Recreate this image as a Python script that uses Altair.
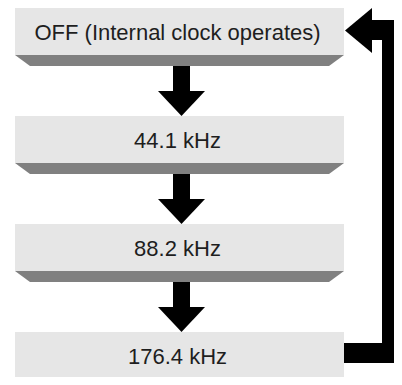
import altair as alt
import pandas as pd

# ---- diagram content ----
labels = ["OFF (Internal clock operates)", "44.1 kHz", "88.2 kHz", "176.4 kHz"]
steps = [0, 1, 2, 3]

# ---- layout (page pixel frame; the page has an 8px margin) ----
W, H = 386, 369
M = 8
BOX_L, BOX_R = 15, 344
BOX_H = 47
PITCH = 108
TOP0 = 8
SHADOW = 11
INSET = 15
RIGHT = M + W  # right edge of drawable area

xs = alt.Scale(domain=[M, M + W], nice=False, zero=False)
ys = alt.Scale(domain=[M, M + H], reverse=True, nice=False, zero=False)

tops = [TOP0 + PITCH * s for s in steps]

boxes = pd.DataFrame({
    "label": labels,
    "left": BOX_L, "right": BOX_R,
    "top": tops,
    "bottom": [t + BOX_H for t in tops],
    "cx": (BOX_L + BOX_R) / 2 - 2,
    "cy": [t + BOX_H / 2 + 1 for t in tops],
})

shadow_rows = []
for s, t in zip(steps, tops):
    b = t + BOX_H
    for x, y2 in [(BOX_L, b), (BOX_L + INSET, b + SHADOW), (BOX_R - INSET, b + SHADOW), (BOX_R, b)]:
        shadow_rows.append({"box": s, "x": x, "y": b, "y2": y2})
shadows = pd.DataFrame(shadow_rows)

AX = 181.5
shaft_rows, head_rows = [], []
for s in steps[:-1]:
    start = tops[s] + BOX_H + SHADOW
    nxt = tops[s + 1]
    head_top = nxt - 25
    shaft_rows.append({"x": AX - 8.5, "x2": AX + 8.5, "y": start, "y2": head_top + 1})
    for x, y2 in [(AX - 23.5, head_top), (AX, nxt), (AX + 23.5, head_top)]:
        head_rows.append({"arrow": s, "x": x, "y": head_top, "y2": y2})
shafts = pd.DataFrame(shaft_rows)
heads = pd.DataFrame(head_rows)

# return path from last box back to the first
ret_bars = pd.DataFrame([
    {"x": RIGHT - 12, "x2": RIGHT, "y": 20, "y2": 363},
    {"x": BOX_R, "x2": RIGHT, "y": 343, "y2": 363},
    {"x": 370, "x2": RIGHT, "y": 20, "y2": 40},
])
ret_head = pd.DataFrame([
    {"y": 8, "x": 372, "x2": 372},
    {"y": 30.5, "x": BOX_R + 1, "x2": 372},
    {"y": 53, "x": 372, "x2": 372},
])

box_layer = alt.Chart(boxes).mark_rect(color="#e6e6e6").encode(
    x=alt.X("left:Q", scale=xs, axis=None), x2="right:Q",
    y=alt.Y("top:Q", scale=ys, axis=None), y2="bottom:Q",
)
shadow_layer = alt.Chart(shadows).mark_area(color="#808080", orient="vertical").encode(
    x=alt.X("x:Q", scale=xs, axis=None),
    y=alt.Y("y:Q", scale=ys, axis=None), y2="y2:Q",
    detail="box:N",
)
text_layer = alt.Chart(boxes).mark_text(
    font="Liberation Sans", fontSize=22, color="#1e1e1e", align="center", baseline="middle"
).encode(
    x=alt.X("cx:Q", scale=xs, axis=None),
    y=alt.Y("cy:Q", scale=ys, axis=None),
    text="label:N",
)
shaft_layer = alt.Chart(shafts).mark_rect(color="black").encode(
    x=alt.X("x:Q", scale=xs, axis=None), x2="x2:Q",
    y=alt.Y("y:Q", scale=ys, axis=None), y2="y2:Q",
)
head_layer = alt.Chart(heads).mark_area(color="black", orient="vertical").encode(
    x=alt.X("x:Q", scale=xs, axis=None),
    y=alt.Y("y:Q", scale=ys, axis=None), y2="y2:Q",
    detail="arrow:N",
)
ret_layer = alt.Chart(ret_bars).mark_rect(color="black").encode(
    x=alt.X("x:Q", scale=xs, axis=None), x2="x2:Q",
    y=alt.Y("y:Q", scale=ys, axis=None), y2="y2:Q",
)
ret_head_layer = alt.Chart(ret_head).mark_area(color="black", orient="horizontal").encode(
    y=alt.Y("y:Q", scale=ys, axis=None),
    x=alt.X("x:Q", scale=xs, axis=None), x2="x2:Q",
)

chart = alt.layer(
    box_layer, shadow_layer, text_layer, shaft_layer, head_layer, ret_layer, ret_head_layer
).properties(
    width=W, height=H, padding=0, autosize=alt.AutoSizeParams(type="none")
).configure_view(stroke=None)

chart.save("out.html", embed_options={"renderer": "svg", "actions": False})
